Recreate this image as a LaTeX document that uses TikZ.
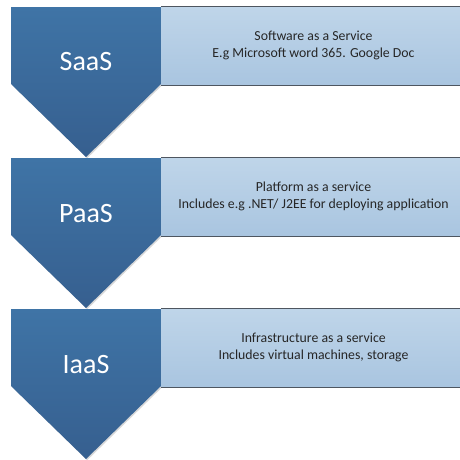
\documentclass[tikz,border=0pt]{standalone}
\usepackage{fontspec}
\setmainfont{Carlito}
\usetikzlibrary{shadows}
\definecolor{chevtop}{HTML}{3F74A6}
\definecolor{chevbot}{HTML}{365F8F}
\definecolor{boxtop}{HTML}{BFD5E9}
\definecolor{boxbot}{HTML}{A9C5E0}
\definecolor{edgeline}{HTML}{4E5660}
\tikzset{
  chevron/.style={top color=chevtop, bottom color=chevbot, draw=none,
    drop shadow={shadow xshift=1.2pt, shadow yshift=-1.2pt, opacity=0.3, fill=black!50}},
  chevlabel/.style={text=white, font=\fontsize{28}{32}\selectfont, inner sep=0pt},
  infobox/.style={top color=boxtop, bottom color=boxbot, draw=none,
    minimum width=299pt, minimum height=78pt, inner sep=0pt},
  boxtext/.style={inner sep=0pt, align=center,
    font=\fontsize{13.8}{16.8}\selectfont, text=black!85},
  edge/.style={draw=edgeline, line width=0.9pt}
}
\begin{document}
\begin{tikzpicture}[x=1pt,y=-1pt]
\useasboundingbox (0,0) rectangle (460,459);
\fill[white] (0,0) rectangle (460,459);
\foreach \t/\n in {7/1,158/2,309/3}{
  \path[chevron] (11,\t) -- (161,\t) -- (161,\t+77) -- (86,\t+150) -- (11,\t+77) -- cycle;
}
% boxes
\node[infobox] (saasbox) at (310.5,46) {};
\node[infobox] (paasbox) at (310.5,197) {};
\node[infobox] (iaasbox) at (310.5,348) {};
\foreach \b in {saasbox,paasbox,iaasbox}{
  \draw[edge] (\b.north west) -- (\b.north east);
  \draw[edge] (\b.south west) -- (\b.south east);
}
\node[boxtext] (saastext) at (313.5,45.5) {Software as a Service\\E.g Microsoft word 365. Google Doc};
\node[boxtext] (paastext) at (313.5,196.5) {Platform as a service\\Includes e.g .NET/ J2EE for deploying application};
\node[boxtext] (iaastext) at (313.5,347.5) {Infrastructure as a service\\Includes virtual machines, storage};
% labels
\node[chevlabel] (saas) at (86,62) {SaaS};
\node[chevlabel] (paas) at (86,214) {PaaS};
\node[chevlabel] (iaas) at (86,365) {IaaS};
\end{tikzpicture}
\end{document}
